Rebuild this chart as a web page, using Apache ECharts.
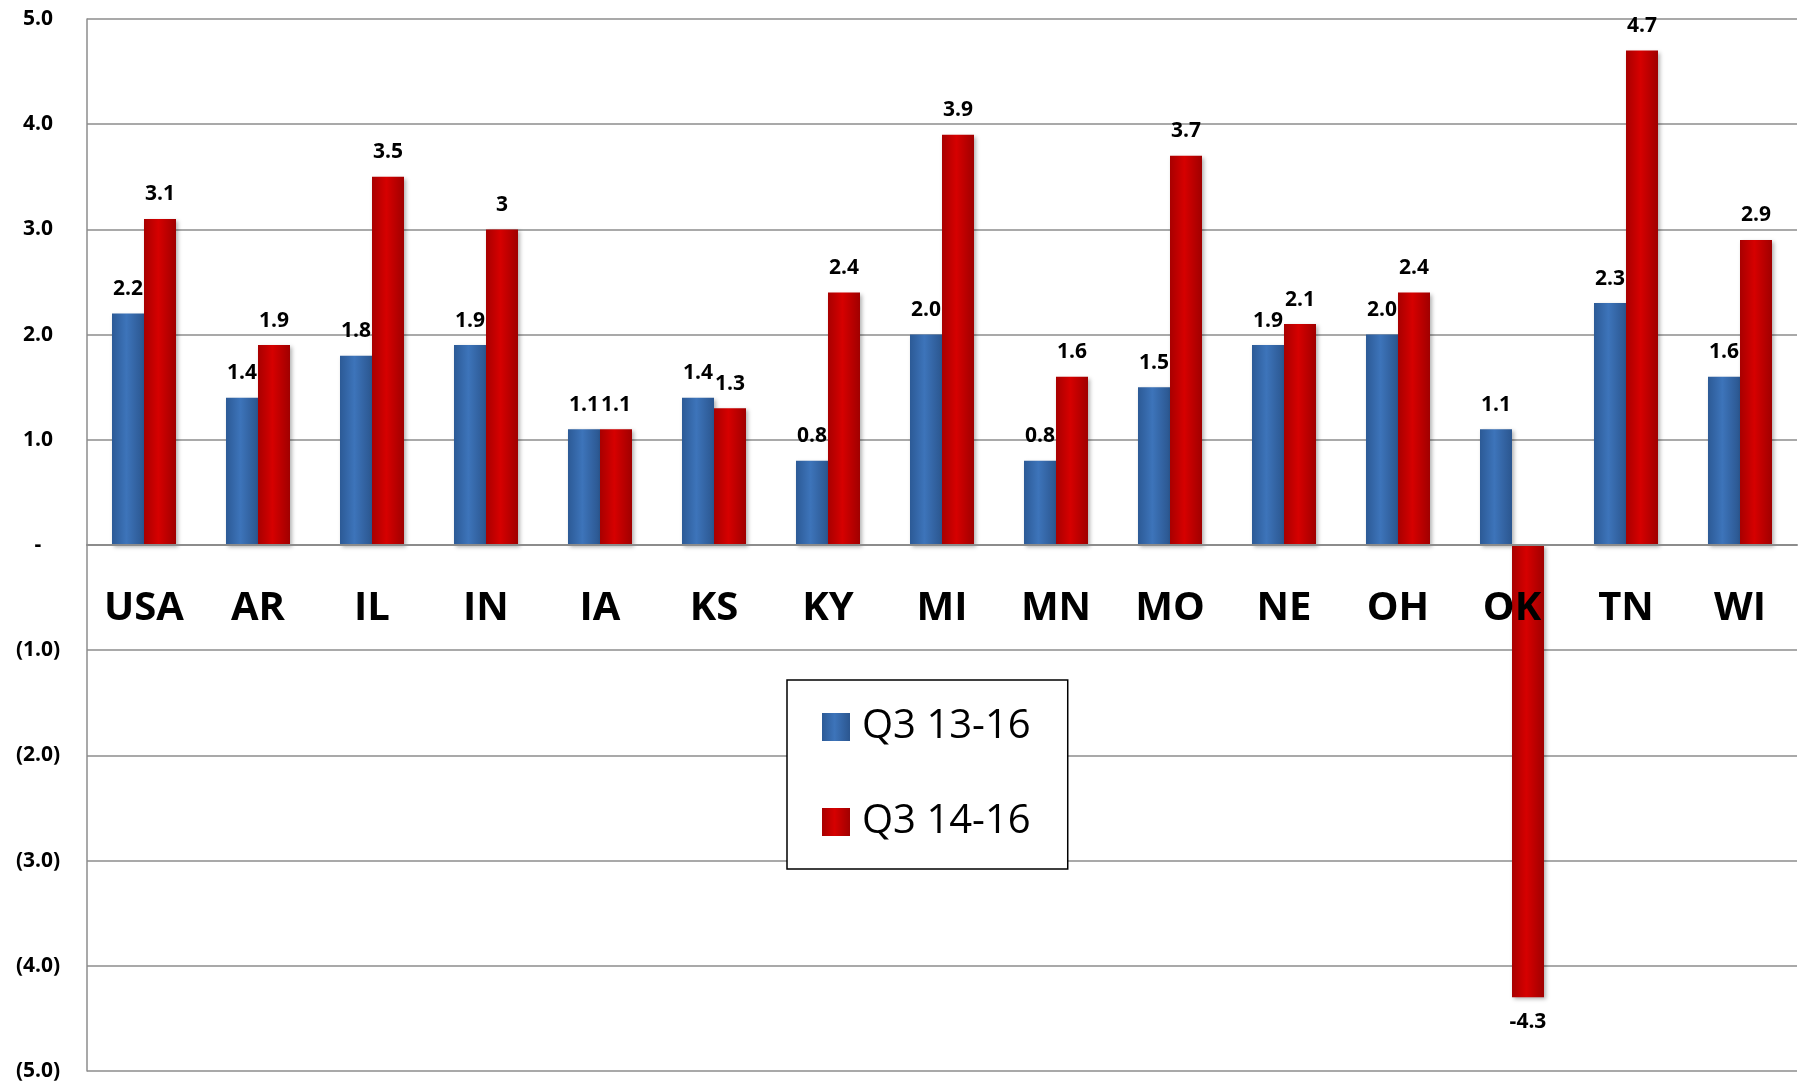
<!DOCTYPE html>
<html>
<head>
<meta charset="utf-8">
<script src="https://cdn.jsdelivr.net/npm/echarts@6/dist/echarts.min.js"></script>
<style>
  html, body { margin: 0; padding: 0; background: #fff; }
  #barChart { width: 1803px; height: 1084px; }
</style>
</head>
<body>
<div id="barChart"></div>
<script>
const states = ['USA', 'AR', 'IL', 'IN', 'IA', 'KS', 'KY', 'MI', 'MN', 'MO', 'NE', 'OH', 'OK', 'TN', 'WI']
const q3_13_16 = [2.2, 1.4, 1.8, 1.9, 1.1, 1.4, 0.8, 2.0, 0.8, 1.5, 1.9, 2.0, 1.1, 2.3, 1.6]
const q3_14_16 = [3.1, 1.9, 3.5, 3, 1.1, 1.3, 2.4, 3.9, 1.6, 3.7, 2.1, 2.4, -4.3, 4.7, 2.9]
const seriesNames = ['Q3 13-16', 'Q3 14-16']

const myChart = echarts.init(document.getElementById('barChart'))

// 立体感的横向渐变
const blueFill = new echarts.graphic.LinearGradient(0, 0, 1, 0, [
  { offset: 0, color: '#2c5a96' },
  { offset: 0.45, color: '#3d74ba' },
  { offset: 1, color: '#2b568f' }
])
const redFill = new echarts.graphic.LinearGradient(0, 0, 1, 0, [
  { offset: 0, color: '#a80000' },
  { offset: 0.45, color: '#d60000' },
  { offset: 1, color: '#a00000' }
])

const yLabel = (v) => {
  if (v === 0) return '-'
  if (v < 0) return '(' + Math.abs(v).toFixed(1) + ')'
  return v.toFixed(1)
}

const labelFont = {
  fontFamily: 'Open Sans',
  fontWeight: 'bold',
  fontSize: 21,
  color: '#000'
}

// 负数的标签放在柱子下方
const withLabelPos = (arr) =>
  arr.map((v) => (v < 0 ? { value: v, label: { position: 'bottom' } } : v))

const plotTop = 19
const plotBottom = 13
const plotHeight = 1084 - plotTop - plotBottom

const option = {
  animation: false,
  grid: {
    left: 87,
    right: 6,
    top: plotTop,
    bottom: plotBottom,
    containLabel: false,
    outerBoundsMode: 'none'
  },
  legend: {
    data: seriesNames,
    orient: 'vertical',
    left: 787,
    top: 680,
    padding: [23, 37, 23, 35],
    itemWidth: 28,
    itemHeight: 28,
    itemGap: 47,
    backgroundColor: '#fff',
    borderColor: '#000',
    borderWidth: 1.5,
    icon: 'rect',
    textStyle: {
      fontFamily: 'Open Sans',
      fontSize: 40,
      lineHeight: 48,
      color: '#000',
      padding: [0, 0, 0, 7]
    }
  },
  xAxis: {
    type: 'category',
    data: states,
    position: 'bottom',
    offset: -plotHeight / 2, // 把分类轴放到 0 的位置
    z: 3, // 分类文字压在柱子上面
    axisLine: {
      onZero: false,
      lineStyle: { color: '#8c8c8c', width: 2 }
    },
    axisTick: { show: false },
    axisLabel: {
      margin: 44,
      hideOverlap: false,
      fontFamily: 'Open Sans',
      fontWeight: 'bold',
      fontSize: 40,
      color: '#000'
    }
  },
  yAxis: {
    type: 'value',
    min: -5,
    max: 5,
    interval: 1,
    axisLine: {
      show: true,
      lineStyle: { color: '#8c8c8c', width: 1.5 }
    },
    axisTick: { show: false },
    axisLabel: {
      margin: 49,
      align: 'center',
      formatter: yLabel,
      ...labelFont
    },
    splitLine: {
      lineStyle: { color: '#8c8c8c', width: 1.5 }
    }
  },
  series: [
    {
      name: seriesNames[0],
      type: 'bar',
      barWidth: 32,
      barGap: '0%',
      data: withLabelPos(q3_13_16),
      itemStyle: {
        color: blueFill,
        shadowColor: 'rgba(0, 0, 0, 0.3)',
        shadowBlur: 4,
        shadowOffsetX: 2,
        shadowOffsetY: 2
      },
      label: {
        show: true,
        position: 'top',
        distance: 14,
        formatter: (p) => p.value.toFixed(1),
        ...labelFont
      }
    },
    {
      name: seriesNames[1],
      type: 'bar',
      barWidth: 32,
      barGap: '0%',
      data: withLabelPos(q3_14_16),
      itemStyle: {
        color: redFill,
        shadowColor: 'rgba(0, 0, 0, 0.3)',
        shadowBlur: 4,
        shadowOffsetX: 2,
        shadowOffsetY: 2
      },
      label: {
        show: true,
        position: 'top',
        distance: 14,
        formatter: (p) => String(p.value),
        ...labelFont
      }
    }
  ]
}

option && myChart.setOption(option)
</script>
</body>
</html>
